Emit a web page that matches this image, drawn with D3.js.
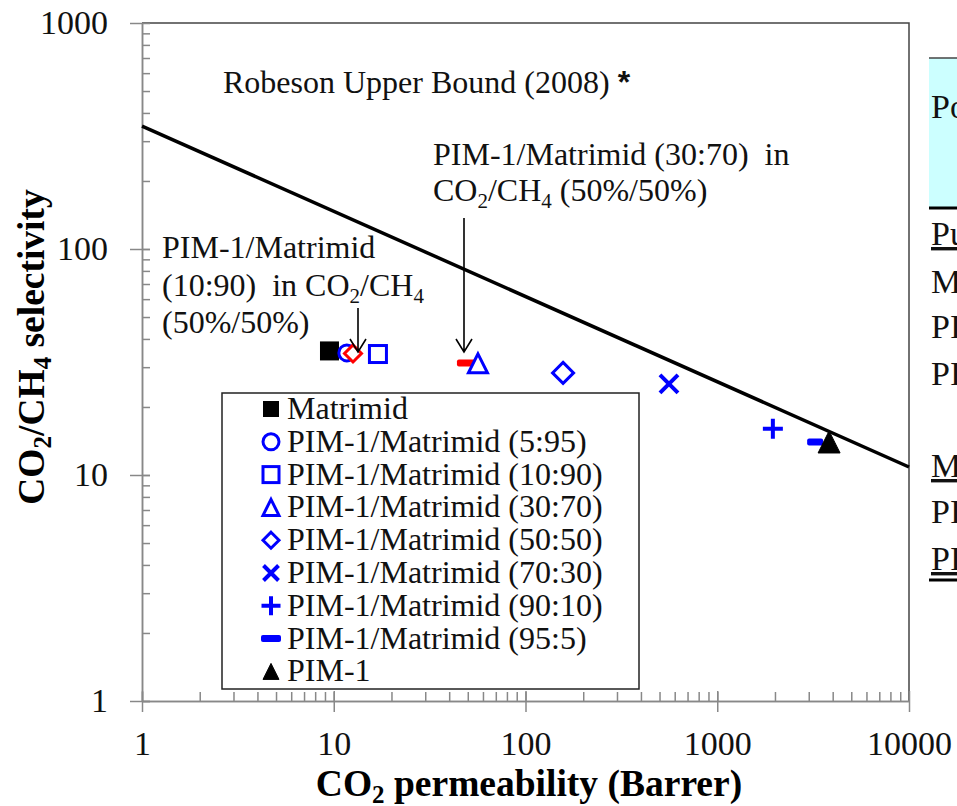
<!DOCTYPE html>
<html>
<head>
<meta charset="utf-8">
<script src="https://cdn.jsdelivr.net/npm/d3@7"></script>
<style>
  body { margin: 0; background: #fff; }
  svg { display: block; }
  svg text { font-family: "Liberation Serif", "Times New Roman", serif; }
</style>
</head>
<body>
<div class="chart"></div>
<script>
// pure gas data, one point per membrane
const names = ["Matrimid", "PIM-1/Matrimid (5:95)", "PIM-1/Matrimid (10:90)", "PIM-1/Matrimid (30:70)",
  "PIM-1/Matrimid (50:50)", "PIM-1/Matrimid (70:30)", "PIM-1/Matrimid (90:10)", "PIM-1/Matrimid (95:5)", "PIM-1"];
const symbols = ["fsquare", "circle", "square", "triangle", "diamond", "cross", "plus", "dash", "ftriangle"];
const colors = ["#000", "#0000ff", "#0000ff", "#0000ff", "#0000ff", "#0000ff", "#0000ff", "#0000ff", "#000"];
const permeability = [9.5, 11.7, 17, 56.5, 157, 560, 1950, 3240, 3830];
const selectivity = [35.4, 34.7, 34.3, 31.2, 28.3, 25.3, 16.0, 14.0, 14.0];

// mixed gas (CO2/CH4 50%/50%) points, red
const mixedNames = ["PIM-1/Matrimid (10:90) mixed", "PIM-1/Matrimid (30:70) mixed"];
const mixedSymbols = ["diamond", "dash"];
const mixedPerm = [12.6, 49.5];
const mixedSel = [34.5, 31.3];

// Robeson 2008 upper bound end points
const boundPerm = [1, 10000];
const boundSel = [350, 10.85];

const xTicks = [1, 10, 100, 1000, 10000];
const yTicks = [1, 10, 100, 1000];

const W = 957, H = 806;
const svg = d3.select(".chart").append("svg").attr("width", W).attr("height", H);

const x = d3.scaleLog().domain([1, 10000]).range([142, 909]);
const y = d3.scaleLog().domain([1, 1000]).range([701, 23]);

const minorX = [], minorY = [];
for (let d = 1; d < 10000; d *= 10) for (let k = 1; k < 10; k++) minorX.push(d * k);
for (let d = 1; d < 1000; d *= 10) for (let k = 1; k < 10; k++) minorY.push(d * k);

const axisGray = "#888";
const serif = "'Liberation Serif', 'Times New Roman', serif";

// frame top/right
svg.append("path")
  .attr("d", `M${x(1)},${y(1000)}H${x(10000)}V${y(1)}`)
  .attr("fill", "none").attr("stroke", "#444").attr("stroke-width", 1.5);

// y axis: minor ticks inward, majors crossing
const yIn = svg.append("g").attr("transform", `translate(${x(1)},0)`)
  .call(d3.axisRight(y).tickValues(minorY).tickSize(8).tickSizeOuter(0).tickFormat(""));
const yOut = svg.append("g").attr("transform", `translate(${x(1)},0)`)
  .call(d3.axisLeft(y).tickValues(yTicks).tickSize(12).tickSizeOuter(0).tickPadding(22).tickFormat(d3.format("d")));
// x axis
const xIn = svg.append("g").attr("transform", `translate(0,${y(1)})`)
  .call(d3.axisTop(x).tickValues(minorX).tickSize(9).tickSizeOuter(0).tickFormat(""));
const xOut = svg.append("g").attr("transform", `translate(0,${y(1)})`)
  .call(d3.axisBottom(x).tickValues(xTicks).tickSize(11).tickSizeOuter(0).tickPadding(19).tickFormat(d3.format("d")));
xOut.selectAll(".tick line").attr("y1", -10);
yOut.selectAll(".tick line").attr("x2", -12).attr("x1", 8);

[yIn, yOut, xIn, xOut].forEach(g => {
  g.attr("font-family", null);
  g.selectAll("path, line").attr("stroke", axisGray).attr("stroke-width", 1.5);
  g.selectAll("text").style("font-family", serif).attr("font-size", 34).attr("fill", "#111");
});

// axis titles
const xt = svg.append("text").attr("x", 529).attr("y", 796).attr("text-anchor", "middle")
  .attr("font-size", 37.5).attr("font-weight", "bold");
xt.append("tspan").text("CO");
xt.append("tspan").attr("font-size", 25).attr("dy", 7).text("2");
xt.append("tspan").attr("dy", -7).text(" permeability (Barrer)");

const yt = svg.append("text").attr("transform", "translate(44,347) rotate(-90)").attr("text-anchor", "middle")
  .attr("font-size", 37.5).attr("font-weight", "bold");
yt.append("tspan").text("CO");
yt.append("tspan").attr("font-size", 25).attr("dy", 7).text("2");
yt.append("tspan").attr("dy", -7).text("/CH");
yt.append("tspan").attr("font-size", 25).attr("dy", 7).text("4");
yt.append("tspan").attr("dy", -7).text(" selectivity");

// upper bound line
svg.append("path")
  .datum(boundPerm.map((p, i) => [p, boundSel[i]]))
  .attr("d", d3.line().x(d => x(d[0])).y(d => y(d[1])))
  .attr("fill", "none").attr("stroke", "#000").attr("stroke-width", 3.5);

// marker drawing
function marker(g, type, color, s) {
  const sw = 3;
  if (type === "fsquare") {
    g.append("rect").attr("x", -s / 2).attr("y", -s / 2).attr("width", s).attr("height", s).attr("fill", color);
  } else if (type === "square") {
    const a = s - sw;
    g.append("rect").attr("x", -a / 2).attr("y", -a / 2).attr("width", a).attr("height", a)
      .attr("fill", "#fff").attr("stroke", color).attr("stroke-width", sw);
  } else if (type === "circle") {
    g.append("circle").attr("r", (s - sw) / 2).attr("fill", "#fff").attr("stroke", color).attr("stroke-width", sw);
  } else if (type === "diamond") {
    const r = (s - sw) / 2;
    g.append("path").attr("d", `M0,${-r}L${r},0L0,${r}L${-r},0Z`)
      .attr("fill", "#fff").attr("stroke", color).attr("stroke-width", sw);
  } else if (type === "triangle" || type === "ftriangle") {
    const r = (s - sw) / 2;
    g.append("path").attr("d", `M0,${-r}L${r},${r}L${-r},${r}Z`)
      .attr("fill", type === "ftriangle" ? color : "#fff").attr("stroke", color).attr("stroke-width", type === "ftriangle" ? 1 : sw)
      .attr("stroke-linejoin", "miter");
  } else if (type === "cross") {
    const r = s / 2 - 2;
    g.append("path").attr("d", `M${-r},${-r}L${r},${r}M${-r},${r}L${r},${-r}`)
      .attr("stroke", color).attr("stroke-width", 4);
  } else if (type === "plus") {
    const r = s / 2;
    g.append("path").attr("d", `M${-r},0H${r}M0,${-r}V${r}`)
      .attr("stroke", color).attr("stroke-width", 4);
  } else if (type === "dash") {
    g.append("rect").attr("x", -s / 2).attr("y", -3.5).attr("width", s).attr("height", 7).attr("rx", 2)
      .attr("fill", color);
  }
}

const ptSize = { fsquare: 19, circle: 19, square: 20, triangle: 22, diamond: 24, cross: 22, plus: 20, dash: 16, ftriangle: 25 };

// draw order: circle before red diamond, red dash before blue triangle
const pts = svg.append("g");
function drawPoint(px, py, type, color, size) {
  const g = pts.append("g").attr("transform", `translate(${x(px)},${y(py)})`);
  marker(g, type, color, size);
}
[0, 1].forEach(i => drawPoint(permeability[i], selectivity[i], symbols[i], colors[i], ptSize[symbols[i]]));
drawPoint(mixedPerm[0], mixedSel[0], mixedSymbols[0], "#ff0000", 20);
drawPoint(mixedPerm[1], mixedSel[1], mixedSymbols[1], "#ff0000", 20);
[2, 3, 4, 5, 6, 7, 8].forEach(i => drawPoint(permeability[i], selectivity[i], symbols[i], colors[i], ptSize[symbols[i]]));

// legend
const lg = svg.append("g");
lg.append("rect").attr("x", 222).attr("y", 393).attr("width", 417).attr("height", 296)
  .attr("fill", "#fff").attr("stroke", "#222").attr("stroke-width", 1.5);
names.forEach((n, i) => {
  const cy = 409 + i * 32.8;
  const g = lg.append("g").attr("transform", `translate(271,${cy})`);
  marker(g, symbols[i], colors[i], symbols[i] === "fsquare" ? 16 : (symbols[i] === "dash" ? 20 : 19));
  lg.append("text").attr("x", 287).attr("y", cy + 10).attr("font-size", 32).attr("fill", "#111").text(n);
});

// annotations
const ann = svg.append("g").attr("font-size", 32).attr("fill", "#111");
const rb = ann.append("text").attr("x", 223).attr("y", 93);
rb.append("tspan").text("Robeson Upper Bound (2008) ");
rb.append("tspan").style("font-family", "'Liberation Sans', sans-serif").attr("font-weight", "bold").text("*");

function subLine(txt, parts) {
  parts.forEach(p => {
    if (p.sub) txt.append("tspan").attr("font-size", 21).attr("dy", 7).text(p.t);
    else txt.append("tspan").attr("dy", p.after ? -7 : 0).text(p.t);
  });
}
ann.append("text").attr("x", 433).attr("y", 165).attr("xml:space", "preserve").text("PIM-1/Matrimid (30:70)  in");
subLine(ann.append("text").attr("x", 433).attr("y", 201),
  [{ t: "CO" }, { t: "2", sub: true }, { t: "/CH", after: true }, { t: "4", sub: true }, { t: " (50%/50%)", after: true }]);
ann.append("text").attr("x", 162).attr("y", 258).text("PIM-1/Matrimid");
subLine(ann.append("text").attr("x", 162).attr("y", 296).attr("xml:space", "preserve"),
  [{ t: "(10:90)  in CO" }, { t: "2", sub: true }, { t: "/CH", after: true }, { t: "4", sub: true }]);
ann.append("text").attr("x", 162).attr("y", 333).text("(50%/50%)");

// arrows
function arrow(ax, y0, y1) {
  svg.append("path").attr("d", `M${ax},${y0}V${y1}M${ax - 8},${y1 - 13}L${ax},${y1}L${ax + 8},${y1 - 13}`)
    .attr("fill", "none").attr("stroke", "#000").attr("stroke-width", 1.6);
}
arrow(358, 308, 352);
arrow(464, 218, 352);

// table on right edge (cut off by the page edge)
const tb = svg.append("g").attr("font-size", 34).attr("fill", "#111");
tb.append("rect").attr("x", 929).attr("y", 58).attr("width", 40).attr("height", 150).attr("fill", "#ccffff");
tb.append("line").attr("x1", 929).attr("x2", 960).attr("y1", 58).attr("y2", 58).attr("stroke", "#444").attr("stroke-width", 1.5);
tb.append("line").attr("x1", 929).attr("x2", 960).attr("y1", 208).attr("y2", 208).attr("stroke", "#000").attr("stroke-width", 3);
tb.append("line").attr("x1", 929).attr("x2", 960).attr("y1", 580).attr("y2", 580).attr("stroke", "#000").attr("stroke-width", 3);
const rows = [["Polymer", 118, false], ["Pure gas", 245, true], ["Matrimid", 293, false], ["PIM-1", 338, false],
  ["PIM-1/Matrimid", 385, false], ["Mixed gas", 477, true], ["PIM-1/Matrimid (10:90)", 523, false], ["PIM-1/Matrimid (30:70)", 570, true]];
rows.forEach(r => {
  tb.append("text").attr("x", 931).attr("y", r[1]).attr("text-decoration", r[2] ? "underline" : null).text(r[0]);
});
</script>
</body>
</html>
